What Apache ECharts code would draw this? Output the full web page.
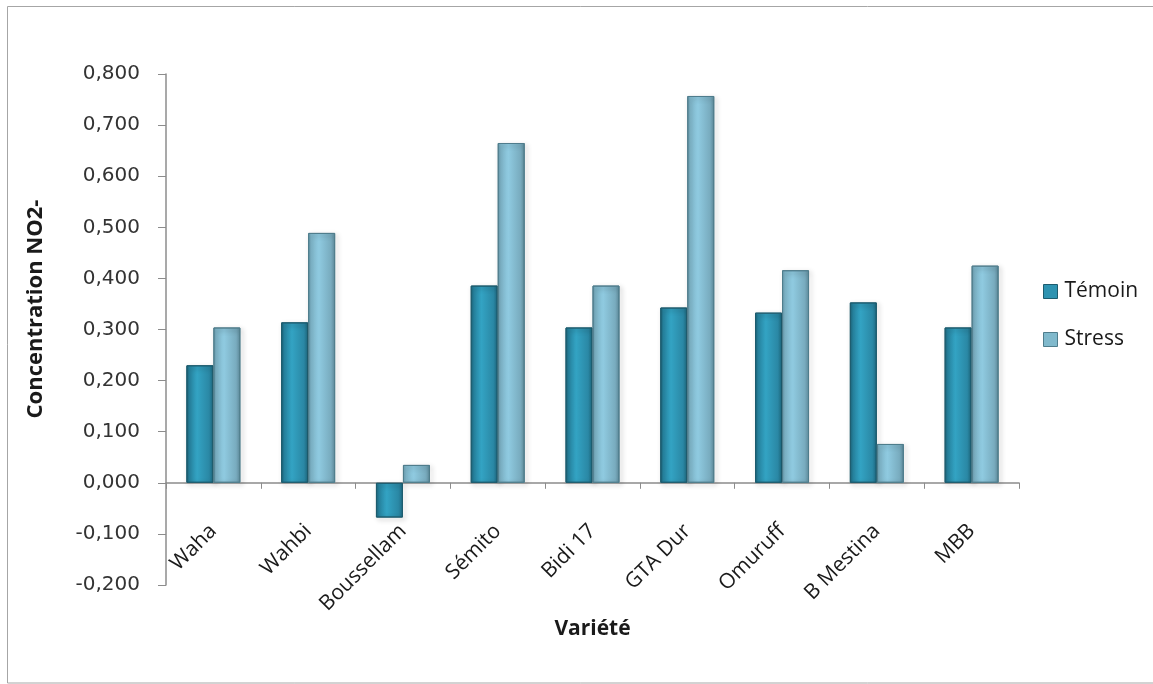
<!DOCTYPE html>
<html>
<head>
<meta charset="utf-8">
<script src="https://cdn.jsdelivr.net/npm/echarts@6/dist/echarts.min.js"></script>
<style>
html,body{margin:0;padding:0;background:#fff;}
#chart{width:1153px;height:684px;}
</style>
</head>
<body>
<div id="chart"></div>
<script>
const categories = ['Waha','Wahbi','Boussellam','Sémito','Bidi 17','GTA Dur','Omuruff','B Mestina','MBB'];
const temoin = [0.230, 0.314, -0.068, 0.386, 0.304, 0.343, 0.333, 0.353, 0.304];
const stress = [0.304, 0.489, 0.035, 0.665, 0.386, 0.757, 0.416, 0.076, 0.425];
const seriesNames = ['Témoin','Stress'];
const yTitle = 'Concentration NO2-';
const xTitle = 'Variété';
const yMin = -0.2, yMax = 0.8, yStep = 0.1;

const chart = echarts.init(document.getElementById('chart'), null, {renderer:'canvas'});

function grad(stops){
  return new echarts.graphic.LinearGradient(0,0,1,0, stops.map((c)=>({offset:c[0],color:c[1]})));
}
const temoinColor = grad([[0,'#1b6479'],[0.12,'#2888a5'],[0.4,'#33a3c3'],[0.85,'#2a87a4'],[1,'#1f6a82']]);
const stressColor = grad([[0,'#6a9cae'],[0.12,'#82bace'],[0.4,'#8fcae0'],[0.85,'#78abbe'],[1,'#5f8c9c']]);

const labelFont = '"Open Sans", Lato, sans-serif';

chart.setOption({
  animation:false,
  backgroundColor:'#ffffff',
  graphic:[
    {type:'rect', shape:{x:7.5,y:6.5,width:1160,height:676.5}, style:{fill:'none',stroke:'#a6a6a6',lineWidth:1}, silent:true},
    {type:'text', x:36, y:309, rotation:Math.PI/2,
     style:{text:yTitle, fontFamily:labelFont, fontWeight:'bold', fontSize:22, fill:'#1a1a1a', align:'center', verticalAlign:'middle'}}
  ],
  legend:{
    orient:'vertical', left:1038, top:276,
    itemWidth:14, itemHeight:14, itemGap:27,
    textStyle:{fontFamily:labelFont, fontSize:21, color:'#1a1a1a', padding:[0,0,0,2]},
    data:[
      {name:seriesNames[0], icon:'rect', itemStyle:{color:'#2e93b1', borderColor:'#1d5c6e', borderWidth:1}},
      {name:seriesNames[1], icon:'rect', itemStyle:{color:'#80b9cc', borderColor:'#4f7d8c', borderWidth:1}}
    ]
  },
  grid:{left:166, right:134, top:74, bottom:99, containLabel:false, outerBoundsMode:'none'},
  xAxis:{
    type:'category', data:categories, offset:0,
    axisLine:{onZero:false, lineStyle:{color:'#8c8c8c', width:1.5}},
    axisTick:{show:true, length:6, lineStyle:{color:'#8c8c8c'}},
    axisLabel:{rotate:45, margin:45, fontFamily:labelFont, fontSize:21, color:'#1a1a1a', interval:0},
    name:xTitle, nameLocation:'middle', nameGap:136, nameMoveOverlap:false,
    nameTextStyle:{fontFamily:labelFont, fontWeight:'bold', fontSize:21, color:'#1a1a1a'}
  },
  yAxis:{
    type:'value', min:yMin, max:yMax, interval:yStep,
    axisLine:{show:true, lineStyle:{color:'#8c8c8c', width:1.5}},
    axisTick:{show:true, length:8, lineStyle:{color:'#8c8c8c'}},
    splitLine:{show:false},
    axisLabel:{margin:26, fontFamily:'"DejaVu Sans", sans-serif', fontSize:20, color:'#333333',
      formatter:function(v){ if(Math.abs(v)<1e-9) v=0; return v.toFixed(3).replace('.',','); }}
  },
  series:[
    {name:seriesNames[0], type:'bar', data:temoin, barWidth:27, barGap:'0%',
     itemStyle:{color:temoinColor, borderColor:'#1d5c6e', borderWidth:1,
       shadowBlur:5, shadowColor:'rgba(0,0,0,0.3)', shadowOffsetX:2, shadowOffsetY:2}},
    {name:seriesNames[1], type:'bar', data:stress, barWidth:27, barGap:'0%',
     itemStyle:{color:stressColor, borderColor:'#4f7d8c', borderWidth:1,
       shadowBlur:5, shadowColor:'rgba(0,0,0,0.3)', shadowOffsetX:2, shadowOffsetY:2}}
  ]
});
// move the category axis onto the value axis zero line, using the library's scale
const yZero = chart.convertToPixel({yAxisIndex:0}, 0);
const yBottom = chart.convertToPixel({yAxisIndex:0}, yMin);
chart.setOption({xAxis:{offset: yZero - yBottom}});
</script>
</body>
</html>
